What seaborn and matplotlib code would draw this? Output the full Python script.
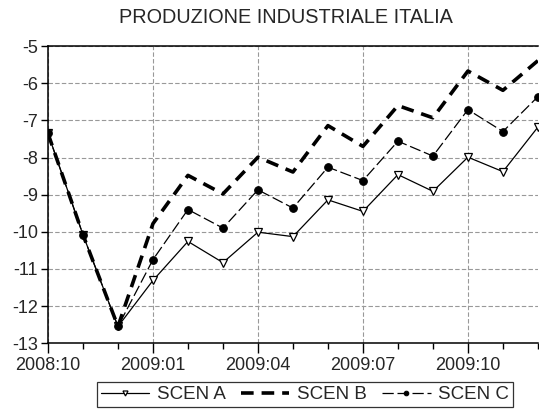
import matplotlib
matplotlib.use("Agg")
import matplotlib.pyplot as plt
import seaborn as sns
import pandas as pd
import numpy as np

months = ["2008:10", "2008:11", "2008:12", "2009:01", "2009:02", "2009:03", "2009:04",
          "2009:05", "2009:06", "2009:07", "2009:08", "2009:09", "2009:10", "2009:11", "2009:12"]
scen_a = [-7.35, -10.08, -12.55, -11.31, -10.26, -10.83, -10.01, -10.13, -9.14, -9.45,
          -8.46, -8.91, -7.99, -8.38, -7.18]
scen_b = [-7.35, -10.08, -12.55, -9.78, -8.48, -8.98, -7.99, -8.39, -7.14, -7.70,
          -6.60, -6.93, -5.67, -6.19, -5.39]
scen_c = [-7.35, -10.08, -12.55, -10.75, -9.40, -9.90, -8.87, -9.36, -8.26, -8.62,
          -7.56, -7.96, -6.71, -7.30, -6.36]
major_labels = ["2008:10", "2009:01", "2009:04", "2009:07", "2009:10"]
yticks = [-13, -12, -11, -10, -9, -8, -7, -6, -5]

sns.set_theme(style="white")
plt.rcParams['font.family'] = ['Liberation Sans', 'DejaVu Sans']

df = pd.DataFrame({"t": np.arange(len(months)), "A": scen_a, "B": scen_b, "C": scen_c})

fig = plt.figure(figsize=(5.39, 4.12), dpi=100)
ax = fig.add_axes([0.089, 0.167, 0.909, 0.721])

sns.lineplot(data=df, x="t", y="A", ax=ax, color="black", lw=0.9, marker="v",
             markersize=6, markerfacecolor="white", markeredgecolor="black",
             markeredgewidth=0.9, label="SCEN A")
sns.lineplot(data=df, x="t", y="B", ax=ax, color="black", lw=2.6, label="SCEN B",
             dashes=False)
ax.lines[-1].set_linestyle((0, (3.5, 2.2)))
sns.lineplot(data=df, x="t", y="C", ax=ax, color="black", lw=0.9, marker="o",
             markersize=5.5, markerfacecolor="black", markeredgecolor="black",
             label="SCEN C")
ax.lines[-1].set_linestyle((0, (9, 3)))

ax.set_xlim(0, len(months) - 1)
ax.set_ylim(-13, -5)
major_pos = [months.index(m) for m in major_labels]
ax.set_xticks(major_pos)
ax.set_xticklabels(major_labels)
ax.set_xticks(np.arange(len(months)), minor=True)
ax.set_yticks(yticks)
ax.set_yticklabels([str(v) for v in yticks])

ax.grid(True, which="major", color="#999999", linestyle=(0, (4, 2)), lw=0.8)
ax.tick_params(axis="x", which="major", direction="out", length=7, width=1, color="black",
               labelsize=13, pad=3, bottom=True)
ax.tick_params(axis="x", which="minor", direction="out", length=4, width=1, color="black",
               bottom=True)
ax.tick_params(axis="y", which="major", direction="out", length=5, width=1, color="black",
               labelsize=13, pad=2, left=True)
for s in ["left", "bottom", "top"]:
    ax.spines[s].set_color("black")
    ax.spines[s].set_linewidth(1.1)
ax.spines["right"].set_visible(False)
ax.set_xlabel("")
ax.set_ylabel("")

fig.text(0.531, 0.958, "PRODUZIONE INDUSTRIALE ITALIA", ha="center", va="center", fontsize=14.3)

leg = ax.legend(loc="upper center", bbox_to_anchor=(0.524, -0.10), ncol=3, frameon=True,
                fancybox=False, fontsize=13.5, handlelength=2.6, handletextpad=0.4,
                columnspacing=0.8, borderpad=0.2, edgecolor="black", markerscale=0.6)
leg.get_frame().set_linewidth(0.9)

fig.savefig("out.png", dpi=100)
